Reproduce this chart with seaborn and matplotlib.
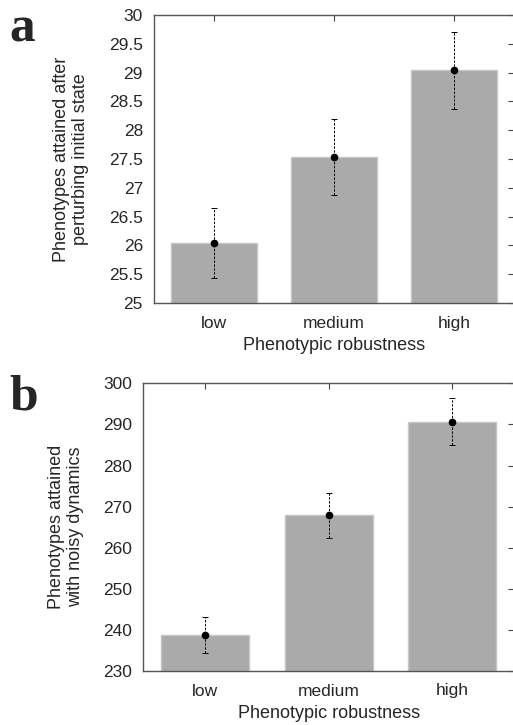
import matplotlib
matplotlib.use("Agg")
import matplotlib.pyplot as plt
import seaborn as sns
import pandas as pd

categories = ["low", "medium", "high"]
a_values = [26.04, 27.54, 29.04]
a_lower = [25.43, 26.87, 28.37]
a_upper = [26.65, 28.20, 29.71]
b_values = [238.8, 267.9, 290.7]
b_lower = [234.3, 262.4, 285.0]
b_upper = [243.1, 273.2, 296.5]

a_yticks = [25, 25.5, 26, 26.5, 27, 27.5, 28, 28.5, 29, 29.5, 30]
a_yticklabels = ["25", "25.5", "26", "26.5", "27", "27.5", "28", "28.5", "29", "29.5", "30"]
b_yticks = [230, 240, 250, 260, 270, 280, 290, 300]

sns.set_theme(style="white")
plt.rcParams["font.family"] = ["Liberation Sans", "DejaVu Sans"]

W, H = 513, 725
fig = plt.figure(figsize=(W / 100, H / 100), dpi=100)

def panel(rect, values, lower, upper, ylim, yticks, yticklabels, ylabel, letter, letter_xy):
    ax = fig.add_axes(rect)
    df = pd.DataFrame({"cat": categories, "val": values})
    sns.barplot(data=df, x="cat", y="val", order=categories, color="#aaaaaa",
                saturation=1, width=0.71, edgecolor="#c6c6c6", linewidth=1,
                errorbar=None, ax=ax)
    xs = list(range(len(categories)))
    yerr = [[v - l for v, l in zip(values, lower)], [u - v for v, u in zip(values, upper)]]
    eb = ax.errorbar(xs, values, yerr=yerr, fmt="o", color="black", ms=4.5,
                     elinewidth=0.7, capsize=2, capthick=0.7, zorder=5)
    for lc in eb[2]:
        lc.set_linestyle((0, (2.5, 1.5)))
    ax.set_xlim(-0.5, 2.5)
    ax.set_ylim(*ylim)
    ax.set_yticks(yticks)
    ax.set_yticklabels(yticklabels)
    ax.tick_params(direction="in", top=True, right=True, length=4, width=0.8,
                   color="#444444", labelsize=12.5, pad=8)
    ax.tick_params(axis="x", pad=9)
    for s in ax.spines.values():
        s.set_color("#555555")
        s.set_linewidth(1.0)
        s.set_visible(True)
    ax.set_xlabel("Phenotypic robustness", fontsize=13, labelpad=5)
    ax.set_ylabel(ylabel, fontsize=13, labelpad=14, linespacing=1.15)
    fig.text(letter_xy[0], letter_xy[1], letter, fontsize=37, fontweight="bold",
             family=["Liberation Serif", "DejaVu Serif"], ha="left", va="baseline")
    return ax

panel([154 / W, 1 - 303 / H, 360 / W, 288 / H], a_values, a_lower, a_upper, (25, 30),
      a_yticks, a_yticklabels, "Phenotypes attained after\nperturbing initial state",
      "a", (9 / W, 1 - 41 / H))
panel([143.3 / W, 1 - 671 / H, 370.7 / W, 287.7 / H], b_values, b_lower, b_upper, (230, 300),
      b_yticks, [str(t) for t in b_yticks], "Phenotypes attained\nwith noisy dynamics",
      "b", (9 / W, 1 - 410 / H))

fig.savefig("out.png", dpi=100)
